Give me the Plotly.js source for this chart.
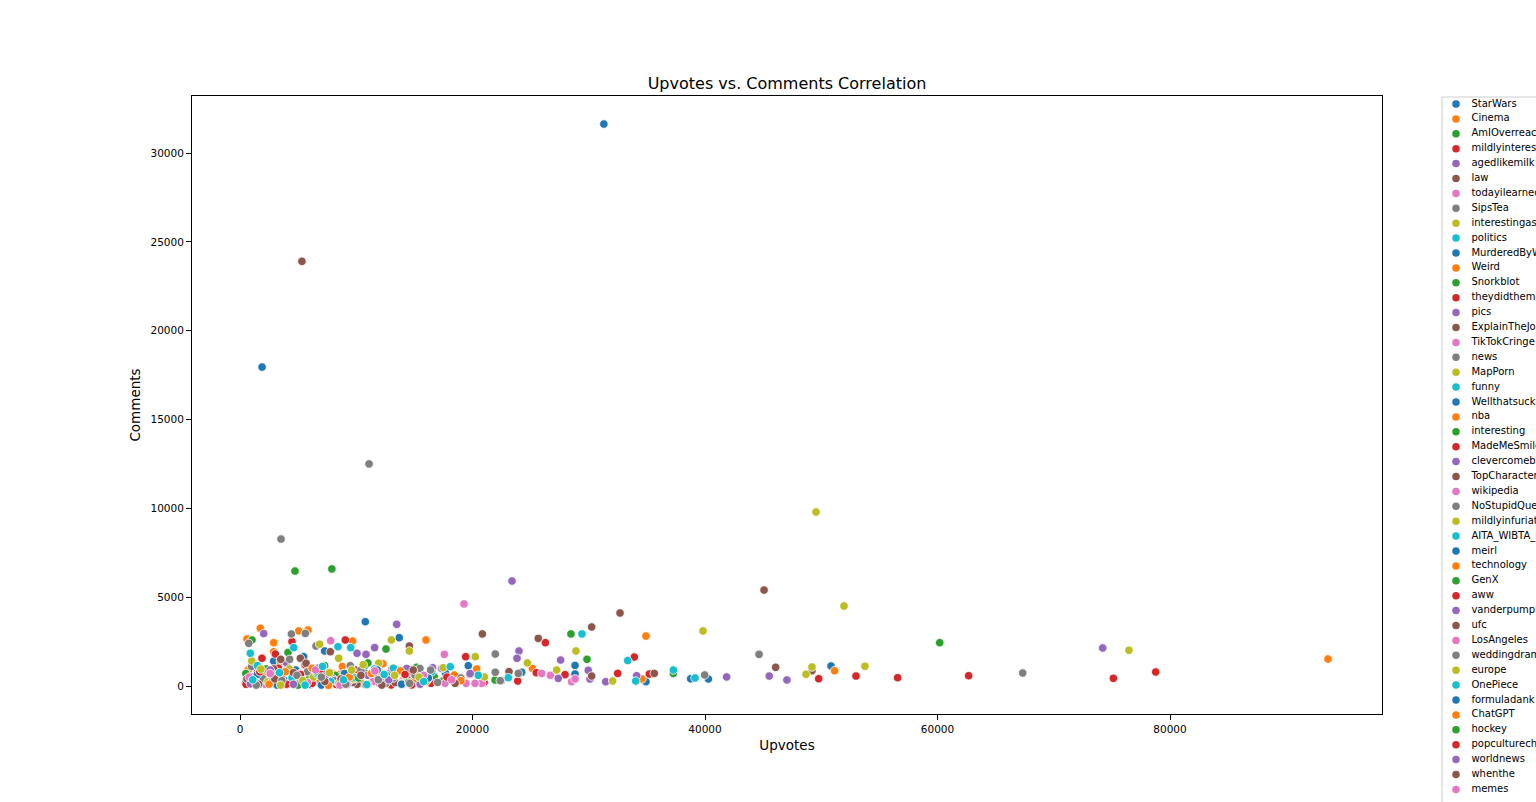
<!DOCTYPE html>
<html>
<head>
<meta charset="utf-8">
<script src="https://cdn.plot.ly/plotly-3.0.1.min.js"></script>
<style>
  body { margin: 0; background: #fff; }
  #chart { width: 1536px; height: 802px; }
</style>
</head>
<body>
<div id="chart"></div>
<script>
// legend order (seaborn hue order)
const subreddits = [
  "StarWars", "Cinema", "AmIOverreacting", "mildlyinteresting", "agedlikemilk",
  "law", "todayilearned", "SipsTea", "interestingasfuck", "politics",
  "MurderedByWords", "Weird", "Snorkblot", "theydidthemath", "pics",
  "ExplainTheJoke", "TikTokCringe", "news", "MapPorn", "funny",
  "Wellthatsucks", "nba", "interesting", "MadeMeSmile", "clevercomebacks",
  "TopCharacterTropes", "wikipedia", "NoStupidQuestions", "mildlyinfuriating", "AITA_WIBTA_PUBLIC",
  "meirl", "technology", "GenX", "aww", "vanderpumprules",
  "ufc", "LosAngeles", "weddingdrama", "europe", "OnePiece",
  "formuladank", "ChatGPT", "hockey", "popculturechat", "worldnews",
  "whenthe", "memes", "StockMarket"
];

// one entry per post: subreddit index, upvotes, comments (same order in all three)
const postSub = [
  // blue
  0,10,20,30,40, 0,10,20,30,40, 0,10,20,30,40, 0,10,20,30,40, 0,10,20,30,40, 0,10,20,30,40,
  // orange
  1,11,21,31,41, 1,11,21,31,41, 1,11,21,31,41, 1,11,21,31,41, 1,11,21,31,41, 1,11,
  // green
  2,12,22,32,42, 2,12,22,32,42, 2,12,22,32,42, 2,12,22,32,42, 2,12,22,32,42,
  // red
  3,13,23,33,43, 3,13,23,33,43, 3,13,23,33,43, 3,13,23,33,43, 3,13,23,33,43, 3,13,23,33,43, 3,13,23,33,43,
  // purple
  4,14,24,34,44, 4,14,24,34,44, 4,14,24,34,44, 4,14,24,34,44, 4,14,24,34,44, 4,14,24,34,44, 4,14,
  // brown
  5,15,25,35,45, 5,15,25,35,45, 5,15,25,35,45, 5,15,25,35,45, 5,15,25,35,45, 5,15,25,35,
  // pink
  6,16,26,36,46, 6,16,26,36,46, 6,16,26,36,46, 6,16,26,36,46, 6,16,26,
  // gray
  7,17,27,37,47, 7,17,27,37,47, 7,17,27,37,47, 7,17,27,37,47, 7,17,27,37,47, 7,
  // olive
  8,18,28,38, 8,18,28,38, 8,18,28,38, 8,18,28,38, 8,18,28,38, 8,18,28,38, 8,18,28,38, 8,18,28,38,
  // cyan
  9,19,29,39, 9,19,29,39, 9,19,29,39, 9,19,29,39, 9,19,29,39, 9,19,29,
  // extra small posts
  0,10,20,30,40,0,10,20,
  21,31,41,1,11,21,31,41,
  2,12,22,32,42,2,12,22,
  3,13,23,33,43,3,13,23,
  24,34,44,4,14,24,34,44,
  45,5,15,25,35,45,5,15,
  36,46,6,16,26,36,46,6,
  17,27,37,47,7,17,27,37,
  8,18,28,38,8,18,28,38,
  39,9,19,29,39,9,19,29
];

const postUpvotes = [
  31300,1900,10780,13700,7280,2900,10720,6420,1230,15400,17690,19640,24230,28820,28820,
  34920,38770,40290,50840,5480,3800,8600,12000,4800,9900,6100,2300,14800,500,11200,
  1750,5050,5850,2900,600,9690,2900,3470,7910,8630,16000,20360,18440,25150,34920,
  34580,51150,93590,1100,4500,12300,6900,2000,10500,15000,700,8800,
  7900,4730,1030,12560,4130,7280,1750,2240,10780,3040,16710,21940,28470,29850,37280,
  60190,6000,9300,13500,500,11000,4300,8200,17500,15200,
  4470,9060,1890,3040,3560,520,14770,16430,19410,26270,19760,23890,25490,27960,32490,
  33920,35210,49780,52990,56570,62680,75130,78770,7500,11800,2600,9900,5600,13000,6200,
  1000,12500,8300,3300,21000,
  23400,13480,2040,11580,10070,10840,24000,23830,27580,17350,16570,15970,14340,18670,27380,
  29960,30110,31460,34120,41860,45530,47050,74210,5200,8000,9500,3000,12000,6700,1500,
  11000,4000,
  5330,20850,32690,30250,25660,14570,7770,5190,2900,13080,4040,5480,10070,13360,14340,
  23140,30250,35640,45080,46080,49200,5680,3500,8900,11500,600,6800,9700,16200,
  19270,7800,17580,5330,2180,9350,11410,17630,19440,20790,20220,26700,25950,28530,28820,
  4500,7200,12800,3200,10200,14000,1300,22500,
  11100,3530,750,4420,5620,6540,4270,9490,12560,15480,15050,21960,21960,22390,23940,
  39970,44650,67330,2000,8100,5800,10400,13200,17000,1000,19000,
  49550,51960,39830,13020,6850,14570,8490,1010,11930,4240,4760,7340,8490,13910,17490,
  20240,21020,24720,27240,28900,32060,48690,49200,53760,76470,3000,6300,9800,12000,16000,
  2400,10600,
  29420,33350,8430,9520,4620,890,11580,9920,4470,18090,23080,18610,14190,34040,37280,
  39140,6600,2800,13200,1500,7800,16500,20500,
  1500,3200,5200,7000,9000,11800,13900,16200,
  2500,3900,6200,7600,9400,11300,13800,19000,
  1200,2800,5000,6600,8800,10200,12600,14500,
  1700,4000,5200,7000,8700,10800,14200,17800,
  900,2600,4600,7300,9200,12800,15500,19800,
  1600,3000,4600,7300,10400,12200,14900,18500,
  800,2600,5800,6500,8600,11600,15800,18200,
  1400,3600,4900,7000,9100,11900,14600,16400,
  1800,3500,5400,7700,9600,11000,13300,15400,
  1100,3400,5600,7100,8900,10900,12400,15800
];

const postComments = [
  31630,17950,3620,2720,1970,1400,1145,660,95,245,710,1145,770,1160,675,
  245,410,395,1125,1650,330,120,500,900,300,80,560,800,200,180,
  3250,3100,3150,2440,2650,2530,1930,1370,710,660,2590,960,620,990,2810,
  395,860,1520,1350,450,1250,300,600,150,350,900,1100,
  6590,6470,2590,2080,1890,1145,960,960,710,95,525,340,2930,1500,710,
  2440,480,220,900,700,1300,150,600,300,1050,
  2500,2590,1560,1800,470,95,60,150,1650,2440,660,280,750,640,710,
  1630,675,410,560,470,580,430,790,350,500,250,900,1200,60,150,
  500,300,80,1000,200,
  5910,3470,2950,2160,1840,1780,1970,1560,1460,990,1030,560,990,240,430,
  880,395,245,580,510,560,340,2140,700,400,1050,200,150,1000,800,
  600,1300,
  23900,2930,4110,3320,2680,2250,1930,1560,960,960,95,95,95,190,470,
  810,560,710,5400,1050,860,1280,1500,700,300,400,600,200,400,
  4620,2550,1780,660,95,245,245,150,150,150,150,600,710,245,395,
  350,100,700,500,500,300,150,300,
  12500,8270,2400,2930,2960,2250,1500,1145,150,990,620,1800,770,300,710,
  620,1780,730,400,300,800,900,450,200,1100,450,
  9790,4500,3100,2590,2350,1970,1560,1410,1280,960,95,150,150,150,1030,
  1650,510,1300,900,1970,280,660,1070,1110,2010,600,500,400,800,250,
  250,1200,
  2930,1430,2210,2160,2160,1840,960,470,470,1090,470,150,620,280,900,
  450,700,300,1000,1150,250,800,600,
  650,50,400,50,700,900,100,450,
  100,800,1000,40,500,700,850,300,
  300,700,50,800,100,450,600,200,
  800,100,650,900,400,80,650,500,
  120,900,100,550,80,350,100,700,
  100,400,750,250,600,50,900,150,
  500,700,200,900,50,850,600,350,
  50,300,600,500,100,350,150,900,
  950,50,300,750,900,100,600,500,
  350,750,50,1100,350,80,650,250
];

const palette = ["#1f77b4", "#ff7f0e", "#2ca02c", "#d62728", "#9467bd",
                 "#8c564b", "#e377c2", "#7f7f7f", "#bcbd22", "#17becf"];

const W = 1536, H = 802;
const FONT = "DejaVu Sans";

const points = {
  type: "scatter",
  mode: "markers",
  x: postUpvotes,
  y: postComments,
  text: postSub.map(i => subreddits[i]),
  marker: {
    size: 8.5,
    color: postSub.map(i => palette[i % 10]),
    line: { color: "#ffffff", width: 0.8 }
  },
  hovertemplate: "%{text}<br>%{x} upvotes<br>%{y} comments<extra></extra>",
  showlegend: false
};

// legend drawn on its own hidden axes to keep matplotlib's tight spacing
const legendMarkers = {
  type: "scatter",
  mode: "markers",
  x: subreddits.map(() => 0),
  y: subreddits.map((_, i) => i),
  xaxis: "x2",
  yaxis: "y2",
  marker: { size: 7.5, color: subreddits.map((_, i) => palette[i % 10]) },
  cliponaxis: false,
  hoverinfo: "skip",
  showlegend: false
};

const legendText = {
  type: "scatter",
  mode: "text",
  x: subreddits.map(() => 1.03),
  y: subreddits.map((_, i) => i),
  xaxis: "x2",
  yaxis: "y2",
  text: subreddits,
  textposition: "middle right",
  textfont: { family: FONT, size: 10, color: "#000" },
  cliponaxis: false,
  hoverinfo: "skip",
  showlegend: false
};

const layout = {
  width: W,
  height: H,
  autosize: false,
  margin: { l: 0, r: 0, t: 0, b: 0, pad: 0 },
  paper_bgcolor: "#ffffff",
  plot_bgcolor: "#ffffff",
  font: { family: FONT, color: "#000" },
  title: {
    text: "Upvotes vs. Comments Correlation",
    font: { family: FONT, size: 16, color: "#000" },
    x: 787 / W,
    xanchor: "center",
    y: 1 - 83 / H,
    yanchor: "middle"
  },
  xaxis: {
    domain: [192 / W, 1382 / W],
    range: [-4129, 98237],
    tick0: 0,
    dtick: 20000,
    tickformat: "d",
    showgrid: false,
    zeroline: false,
    showline: true,
    mirror: true,
    linecolor: "#000",
    linewidth: 1,
    ticks: "outside",
    ticklen: 5,
    tickwidth: 1,
    tickcolor: "#000",
    tickfont: { family: FONT, size: 10.5, color: "#000" },
    title: { text: "Upvotes", font: { family: FONT, size: 13.5, color: "#000" }, standoff: 6 }
  },
  yaxis: {
    domain: [(H - 714) / H, (H - 96) / H],
    range: [-1576, 33208],
    tick0: 0,
    dtick: 5000,
    tickformat: "d",
    showgrid: false,
    zeroline: false,
    showline: true,
    mirror: true,
    linecolor: "#000",
    linewidth: 1,
    ticks: "outside",
    ticklen: 5,
    tickwidth: 1,
    tickcolor: "#000",
    tickfont: { family: FONT, size: 10.5, color: "#000" },
    title: { text: "Comments", font: { family: FONT, size: 13.5, color: "#000" }, standoff: 6 }
  },
  xaxis2: {
    domain: [1442 / W, 1],
    range: [-0.9333, 5.333],
    anchor: "y2",
    visible: false,
    fixedrange: true
  },
  yaxis2: {
    domain: [0, 1],
    range: [(H - 104) / 14.9, -104 / 14.9],
    anchor: "x2",
    visible: false,
    fixedrange: true
  },
  shapes: [{
    type: "rect",
    xref: "paper",
    yref: "paper",
    x0: 1442 / W,
    x1: 1.02,
    y0: -0.02,
    y1: 1 - 97 / H,
    line: { color: "#cccccc", width: 1 },
    fillcolor: "rgba(255,255,255,0.8)",
    layer: "below"
  }]
};

Plotly.newPlot("chart", [points, legendMarkers, legendText], layout, { displayModeBar: false })
  .catch(error => console.error("Error rendering scatter plot:", error));
</script>
</body>
</html>
